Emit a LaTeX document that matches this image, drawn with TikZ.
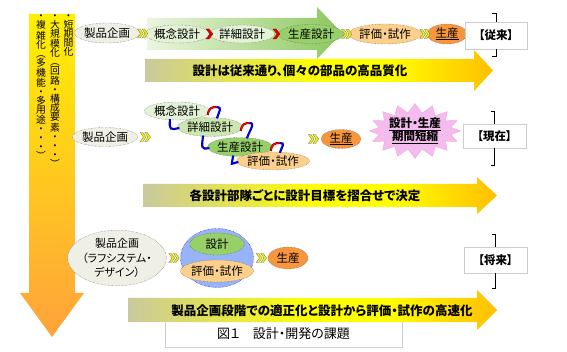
\documentclass[tikz,border=0pt]{standalone}
\usepackage{fontspec}
\setmainfont{Noto Sans CJK JP}[RawFeature=+palt]
\usepackage{xcolor}
\usetikzlibrary{shapes.geometric, shapes.symbols, calc}

\definecolor{creamfill}{HTML}{EFEFE6}
\definecolor{paleGreen}{HTML}{E3F1D6}
\definecolor{midGreen}{HTML}{CBE6B0}
\definecolor{deepGreen}{HTML}{97CF69}
\definecolor{paleOrange}{HTML}{FCCF8A}
\definecolor{deepOrange}{HTML}{F7963D}
\definecolor{hubBlue}{HTML}{99B3FA}
\definecolor{burstPink}{HTML}{F4BBEE}
\definecolor{barL}{HTML}{C9C99E}
\definecolor{barR}{HTML}{FFBF00}
\definecolor{chevY}{HTML}{F2F200}
\definecolor{vTop}{HTML}{FFF000}
\definecolor{vBot}{HTML}{FFA23C}
\definecolor{grL}{HTML}{EBF5E0}
\definecolor{grR}{HTML}{8CC75C}

\pgfdeclarehorizontalshading{barshade}{100bp}{color(0bp)=(barL); color(25bp)=(barL); color(50bp)=(yellow); color(60bp)=(yellow); color(75bp)=(barR); color(100bp)=(barR)}

\begin{document}
\begin{tikzpicture}[
    x=1pt, y=-1pt,
    stage/.style={ellipse, draw=black!65, densely dotted, inner sep=0pt, minimum height=19pt, font=\fontsize{11.5}{13}\selectfont},
    tag/.style={draw=black!20, fill=white, minimum width=62pt, minimum height=25pt, font=\bfseries\fontsize{11.5}{13}\selectfont},
    bartext/.style={font=\bfseries\fontsize{12.5}{14}\selectfont},
    vtext/.style={anchor=north, align=center, inner sep=0pt, font=\fontsize{9.8}{9}\selectfont},
    brk/.style={line width=0.8pt},
    loopline/.style={line width=0.5pt, draw=#1!55!black, double=#1, double distance=1.1pt},
    dchev/.pic={\foreach \d in {-4.5,0}{\filldraw[fill=chevY, draw=black!55, line width=0.3pt] (\d,-4.5) -- ++(2.6,0) -- ++(3.2,4.5) -- ++(-3.2,4.5) -- ++(-2.6,0) -- ++(3.2,-4.5) -- cycle;}},
    rchev/.pic={\filldraw[fill=red!90!black, draw=red!60!black, line width=0.3pt] (-3.5,-5) -- ++(3,0) -- ++(4,5) -- ++(-4,5) -- ++(-3,0) -- ++(4,-5) -- cycle;},
]
\useasboundingbox (0,0) rectangle (567,352);
\fill[white] (0,0) rectangle (567,352);

% Left trend arrow with vertical text
\shade[top color=vTop, bottom color=vBot] (29,14) -- (75,14) -- (75,293) -- (84,293) -- (52,337) -- (20,293) -- (29,293) -- cycle;
\node[vtext] (colA) at (68.5,15) {・\\短\\期\\間\\化};
\node[vtext] (colB) at (55,15) {・\\大\\規\\模\\化\\︵\\回\\路\\・\\構\\成\\要\\素\\・\\・\\・\\︶};
\node[vtext] (colC) at (41,15) {・\\複\\雑\\化\\︵\\多\\機\\能\\・\\多\\用\\途\\・\\・\\・\\︶};

% Background arrows
\shade[left color=grL, right color=grR] (147,18) -- (317,18) -- (317,7) -- (342,33) -- (317,59) -- (317,50) -- (147,50) -- cycle;
\shade[shading=barshade] (145,59) -- (474,59) -- (474,50) -- (493,70.5) -- (474,91) -- (474,82) -- (145,82) -- cycle;
\shade[shading=barshade] (143,184) -- (477,184) -- (477,177) -- (497,195.5) -- (477,214) -- (477,207) -- (143,207) -- cycle;
\node[draw=black!20, fill=white, minimum width=237pt, minimum height=27pt, font=\fontsize{13}{15}\selectfont] (cap) at (283.5,334) {図１　設計・開発の課題};
\shade[shading=barshade] (128,298) -- (477,298) -- (477,290) -- (497,310) -- (477,330) -- (477,322) -- (128,322) -- cycle;

\node[bartext] (note1) at (300,71) {設計は従来通り、個々の部品の高品質化};
\node[bartext] (note2) at (305,196) {各設計部隊ごとに設計目標を摺合せで決定};
\node[bartext] (note3) at (322,310.5) {製品企画段階での適正化と設計から評価・試作の高速化};

% Row 1: conventional
\node[stage, fill=creamfill, minimum width=59pt, minimum height=20pt] (plan1) at (107,33) {製品企画};
\node[stage, fill=paleGreen, minimum width=53pt, minimum height=18pt] (concept1) at (177,34) {概念設計};
\node[stage, fill=paleGreen, minimum width=52pt, minimum height=18pt] (detail1) at (242,34) {詳細設計};
\node[stage, fill=deepGreen, minimum width=58pt] (prod1) at (311,34) {生産設計};
\node[stage, fill=paleOrange, minimum width=60pt, minimum height=20pt] (eval1) at (385,34) {評価・試作};
\node[stage, fill=deepOrange, minimum width=40pt, minimum height=20pt] (mfg1) at (447,34) {\underline{生産}};
\pic at ($(plan1.east)!0.5!(concept1.west)$) {dchev};
\pic at ($(concept1.east)!0.5!(detail1.west)$) {rchev};
\pic at ($(detail1.east)!0.5!(prod1.west)$) {rchev};
\pic at ($(prod1.east)!0.5!(eval1.west)$) {dchev};
\pic at ($(eval1.east)!0.5!(mfg1.west)$) {dchev};

% Row 2: current
\node[stage, fill=creamfill, minimum width=56pt] (plan2) at (105,137) {製品企画};
\node[stage, fill=paleGreen, minimum width=51pt, minimum height=18pt] (concept2) at (177,111) {概念設計};
\node[stage, fill=midGreen, minimum width=55pt] (detail2) at (210,127) {詳細設計};
\node[stage, fill=deepGreen, minimum width=56pt] (prod2) at (240,147) {生産設計};
\node[stage, fill=paleOrange, minimum width=60pt, minimum height=18pt] (eval2) at (273,161) {評価・試作};
\node[stage, fill=deepOrange, minimum width=40pt] (mfg2) at (341,139) {\underline{生産}};
\pic at ($(plan2.east)+(7,0)$) {dchev};
\pic at ($(mfg2.west)+(-8,0)$) {dchev};
\foreach \u/\l in {concept2/detail2, detail2/prod2, prod2/eval2}{
  \draw[loopline=red] ($(\u.east)+(-2,4)$) .. controls +(1,-7) and +(-5,0) .. ($(\u.east)+(7,-4)$);
  \draw[loopline=blue] ($(\u.east)+(7,-4)$) .. controls +(6,0) and +(2,-7) .. ($(\l.north)+(7,1)$);
  \draw[loopline=blue] ($(\u.south)+(-7,-1)$) .. controls +(-1,11) and +(-9,2) .. ($(\l.west)+(2,1)$);
}
\node[starburst, random starburst=0, starburst points=16, starburst point height=9pt, fill=burstPink, draw=magenta!35, minimum width=76pt, minimum height=52pt, inner sep=0pt, align=center, font=\bfseries\fontsize{11.5}{13}\selectfont] (burst) at (415,131) {\underline{設計・生産}\\\underline{期間短縮}};

% Row 3: future
\node[stage, fill=creamfill, minimum width=98pt, minimum height=47pt, align=center, font=\fontsize{11}{14.5}\selectfont] (plan3) at (117,258) {製品企画\\（ラフシステム・\\デザイン）};
\node[ellipse, fill=hubBlue, draw=blue!45!black, densely dotted, minimum width=73pt, minimum height=59pt] (hub) at (217,258) {};
\node[stage, fill=deepGreen, minimum width=55pt, minimum height=22pt] (design3) at (217,244) {設計};
\node[stage, fill=paleOrange, minimum width=58pt, minimum height=22pt] (eval3) at (217,271) {評価・試作};
\node[stage, fill=deepOrange, minimum width=40pt, minimum height=22pt] (mfg3) at (288,258) {生産};
\pic at ($(plan3.east)!0.5!(hub.west)$) {dchev};
\pic at ($(hub.east)!0.5!(mfg3.west)$) {dchev};

% Era labels with brackets
\node[tag, minimum height=27pt] (tag1) at (496,35.5) {【従来】};
\node[tag, minimum width=63pt, minimum height=24pt] (tag2) at (494.5,136) {【現在】};
\node[tag, minimum width=63pt, minimum height=26pt] (tag3) at (495.5,260) {【将来】};
\draw[brk] ([xshift=-4pt,yshift=8pt]tag1.north) -- ([yshift=8pt]tag1.north) -- (tag1.north);
\draw[brk] (tag1.south) -- ([yshift=-7pt]tag1.south) -- ([xshift=-4pt,yshift=-7pt]tag1.south);
\draw[brk] ([xshift=-4pt,yshift=12pt]tag2.north) -- ([yshift=12pt]tag2.north) -- (tag2.north);
\draw[brk] (tag2.south) -- ([yshift=-17pt]tag2.south) -- ([xshift=-4pt,yshift=-17pt]tag2.south);
\draw[brk] ([xshift=-4pt,yshift=12pt]tag3.north) -- ([yshift=12pt]tag3.north) -- (tag3.north);
\draw[brk] (tag3.south) -- ([yshift=-15pt]tag3.south) -- ([xshift=-4pt,yshift=-15pt]tag3.south);

\end{tikzpicture}
\end{document}
